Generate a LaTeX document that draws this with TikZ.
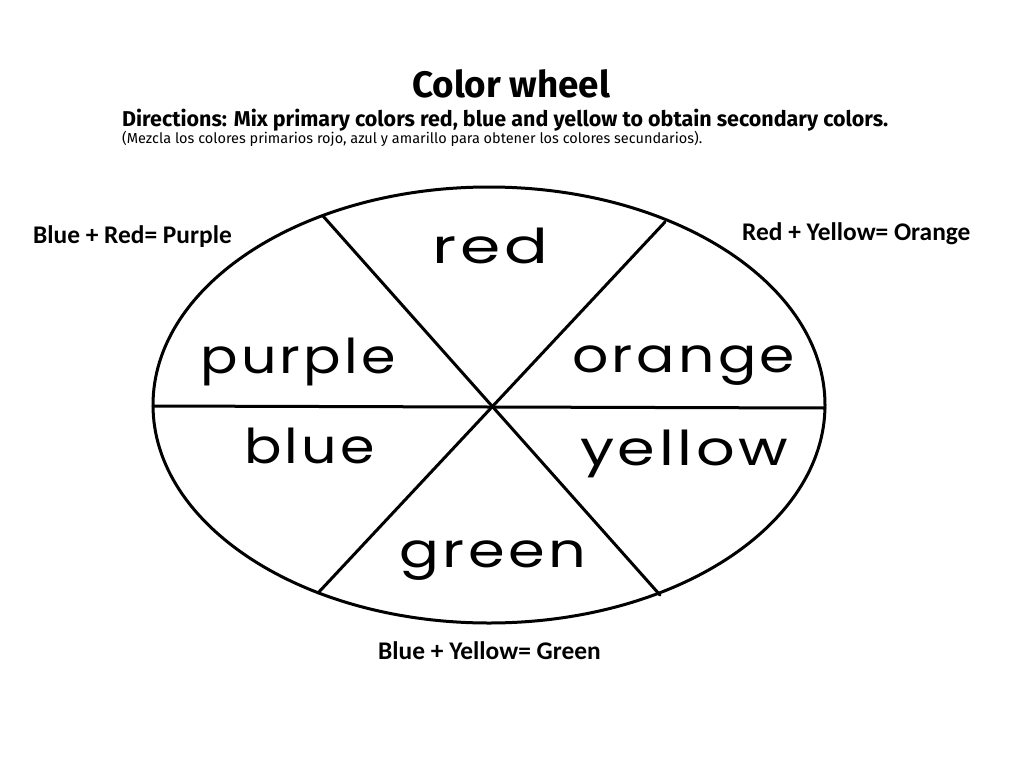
\documentclass[tikz,border=0pt]{standalone}
\usepackage{fontspec}
\usepackage{graphicx}
\setmainfont{Carlito}
\newfontfamily\titlefont{Fira Sans}
\newfontfamily\wheelfont[LetterSpace=6]{Poppins}
\newcommand{\wideword}[2]{\resizebox{#1pt}{\height}{#2}}
\begin{document}
\begin{tikzpicture}[x=1pt,y=-1pt,
  wheelline/.style={line width=3pt, line cap=round},
  wheelword/.style={anchor=base west, inner sep=0pt, font=\wheelfont\fontsize{48}{52}\selectfont},
  mixlabel/.style={anchor=base west, inner sep=0pt, font=\bfseries\fontsize{25.4}{28}\selectfont},
  headline/.style={anchor=base west, inner sep=0pt}]
\useasboundingbox[fill=white] (0,0) rectangle (1024,768);
% headings
\node[headline] (title) at (412,97) {\resizebox{198pt}{!}{\titlefont\bfseries Color wheel}};
\node[headline] (dirs) at (122,126) {\resizebox{766pt}{!}{\titlefont\bfseries Directions: Mix primary colors red, blue and yellow to obtain secondary colors.}};
\node[headline] (mezcla) at (122,143) {\resizebox{580pt}{!}{\titlefont (Mezcla los colores primarios rojo, azul y amarillo para obtener los colores secundarios).}};
% wheel
\draw[wheelline] (489,405) ellipse [x radius=336, y radius=218];
\coordinate (hl) at (153,406);
\coordinate (hr) at (825,408);
\coordinate (tl) at (323,216);
\coordinate (br) at (660,595);
\coordinate (tr) at (665,222);
\coordinate (bl) at (318,593);
\draw[wheelline] (hl) -- (hr);
\draw[wheelline] (tl) -- (br);
\draw[wheelline] (tr) -- (bl);
% wheel words
\node[wheelword] (red) at (432,263) {\wideword{116}{red}};
\node[wheelword] (purple) at (200,373) {\wideword{196}{purple}};
\node[wheelword] (orange) at (572,372) {\wideword{223}{orange}};
\node[wheelword] (blue) at (244,463) {\wideword{131}{blue}};
\node[wheelword] (yellow) at (580,465) {\wideword{208}{yellow}};
\node[wheelword] (green) at (399,567) {\wideword{187}{green}};
% mix labels
\node[mixlabel] (purplemix) at (33,243) {Blue + Red= Purple};
\node[mixlabel] (orangemix) at (742,240) {Red + Yellow= Orange};
\node[mixlabel] (greenmix) at (378,659) {Blue + Yellow= Green};
\end{tikzpicture}
\end{document}
